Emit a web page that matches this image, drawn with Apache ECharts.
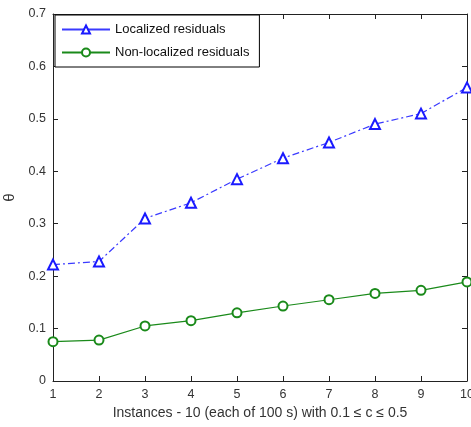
<!DOCTYPE html>
<html><head><meta charset="utf-8">
<script src="https://cdn.jsdelivr.net/npm/echarts@6/dist/echarts.min.js"></script>
<style>html,body{margin:0;padding:0;background:#fff}#c{width:471px;height:427px}</style>
</head><body><div id="c"></div>
<script>
const instances = [1,2,3,4,5,6,7,8,9,10];
const localized = [0.222,0.228,0.31,0.34,0.385,0.425,0.455,0.49,0.51,0.56];
const nonLocalized = [0.075,0.078,0.105,0.115,0.13,0.143,0.155,0.167,0.173,0.189];
const seriesNames = ['Localized residuals','Non-localized residuals'];
const xTitle = 'Instances - 10 (each of 100 s) with 0.1 \u2264 c \u2264 0.5';
const yTitle = '\u03b8';

const chart = echarts.init(document.getElementById('c'));
const font = 'Liberation Sans, Arial, sans-serif';
const axisBase = {
  axisLine:{show:true,onZero:false,lineStyle:{color:'#222',width:1}},
  axisTick:{show:true,inside:true,length:5,lineStyle:{color:'#222'}},
  splitLine:{show:false}
};
chart.setOption({
  animation:false,
  grid:{left:53,right:4,top:14,bottom:46,outerBoundsMode:'none',containLabel:false},
  legend:{
    orient:'vertical',left:55,top:15,
    backgroundColor:'#fff',borderColor:'#000',borderWidth:1,
    padding:[8,10,8,6],itemGap:10,itemWidth:48,itemHeight:10,
    textStyle:{fontFamily:font,fontSize:13,color:'#111'},
    data:[
      {name:seriesNames[0],lineStyle:{type:'solid'}},
      {name:seriesNames[1],lineStyle:{type:'solid'}}
    ]
  },
  xAxis:[
    Object.assign({type:'value',min:1,max:10,interval:1,position:'bottom',
      name:xTitle,nameLocation:'middle',nameGap:24,
      nameTextStyle:{fontFamily:font,fontSize:14,color:'#333'},
      axisLabel:{fontFamily:font,fontSize:12.5,color:'#333',margin:7}},axisBase),
    Object.assign({type:'value',min:1,max:10,interval:1,position:'top',
      axisLabel:{show:false}},axisBase)
  ],
  yAxis:[
    Object.assign({type:'value',min:0,max:0.7,interval:0.1,position:'left',
      name:yTitle,nameLocation:'middle',nameGap:33,nameRotate:90,
      nameTextStyle:{fontFamily:font,fontSize:15,color:'#333'},
      axisLabel:{fontFamily:font,fontSize:12.5,color:'#333',margin:7,
        formatter:v=>v===0?'0':v.toFixed(1)}},axisBase),
    Object.assign({type:'value',min:0,max:0.7,interval:0.1,position:'right',
      axisLabel:{show:false}},axisBase)
  ],
  series:[
    {name:seriesNames[0],type:'line',xAxisIndex:0,yAxisIndex:0,
     data:instances.map((x,i)=>[x,localized[i]]),
     symbol:'emptyTriangle',symbolSize:10,
     itemStyle:{color:'#1a1aff',borderColor:'#1a1aff',borderWidth:1.2},
     lineStyle:{color:'#3a3aff',width:1.2,type:[7,3,2,3]}},
    {name:seriesNames[1],type:'line',xAxisIndex:0,yAxisIndex:0,
     data:instances.map((x,i)=>[x,nonLocalized[i]]),
     symbol:'emptyCircle',symbolSize:9,
     itemStyle:{color:'#1a8a1a',borderColor:'#1a8a1a',borderWidth:1.2},
     lineStyle:{color:'#1a8a1a',width:1.2}}
  ]
});
</script></body></html>
